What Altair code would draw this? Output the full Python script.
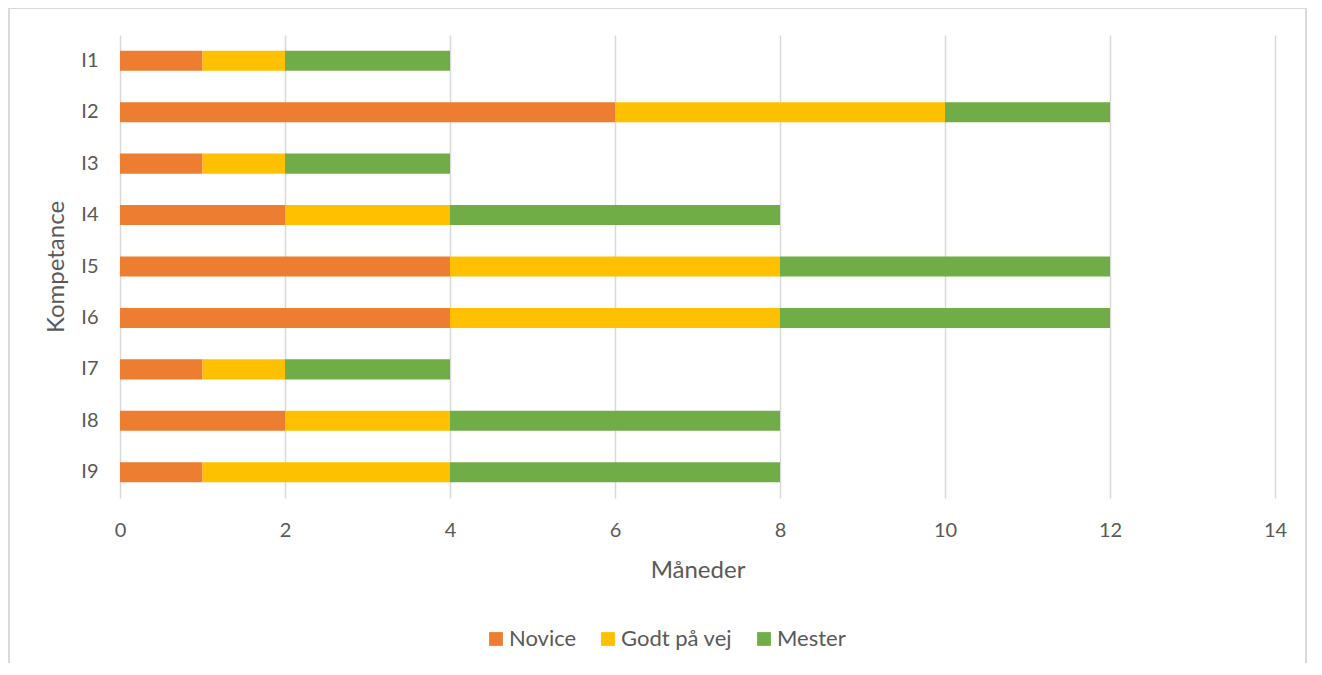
import altair as alt
import pandas as pd

competences = ["I1", "I2", "I3", "I4", "I5", "I6", "I7", "I8", "I9"]
series = ["Novice", "Godt på vej", "Mester"]
novice = [1, 6, 1, 2, 4, 4, 1, 2, 1]
godt = [1, 4, 1, 2, 4, 4, 1, 2, 3]
mester = [2, 2, 2, 4, 4, 4, 2, 4, 4]
colors = ["#ED7D31", "#FFC000", "#70AD47"]
x_ticks = [0, 2, 4, 6, 8, 10, 12, 14]

rows = []
for s_i, (name, vals) in enumerate(zip(series, [novice, godt, mester])):
    for c, v in zip(competences, vals):
        rows.append({"Kompetance": c, "Serie": name, "Måneder": v, "order": s_i})
df = pd.DataFrame(rows)

FONT = "Lato"
TXT = "#595959"
W, H = 1155, 463

bars = alt.Chart(df).mark_bar().encode(
    y=alt.Y("Kompetance:N", sort=competences,
            scale=alt.Scale(paddingInner=0.61, paddingOuter=0.305),
            axis=alt.Axis(title="Kompetance", domain=False, ticks=False, labelPadding=22,
                          labelFontSize=20, titleFontSize=24, titlePadding=12,
                          labelColor=TXT, titleColor=TXT, labelFont=FONT, titleFont=FONT,
                          titleFontWeight="normal")),
    x=alt.X("Måneder:Q", stack="zero",
            scale=alt.Scale(domain=[0, 14], nice=False),
            axis=alt.Axis(title="Måneder", values=x_ticks, domain=False, ticks=False,
                          labelFlush=False,
                          labelPadding=22, labelFontSize=20, titleFontSize=24, titlePadding=18,
                          labelColor=TXT, titleColor=TXT, labelFont=FONT, titleFont=FONT,
                          titleFontWeight="normal", grid=True, gridColor="#D9D9D9", gridWidth=1.5)),
    color=alt.Color("Serie:N", scale=alt.Scale(domain=series, range=colors),
                    legend=alt.Legend(title=None, orient="none", direction="horizontal",
                                      legendX=365, legendY=593, symbolType="square",
                                      symbolSize=190, symbolStrokeWidth=0, labelFontSize=22,
                                      labelFont=FONT, labelColor=TXT, columnPadding=20,
                                      labelOffset=2)),
    order=alt.Order("order:Q"),
)

border = alt.Chart(df).mark_rect(fill=None, stroke="#D9D9D9", strokeWidth=1.5).encode(
    x=alt.value(-111.5), x2=alt.value(1186), y=alt.value(-27), y2=alt.value(700)
)

chart = alt.layer(border, bars).properties(
    width=W, height=H,
    autosize=alt.AutoSizeParams(type="none"),
    padding={"left": 112, "top": 27, "right": 33, "bottom": 165},
).configure_view(stroke=None)

chart.save("out.html", embed_options={"renderer": "svg", "actions": False})
